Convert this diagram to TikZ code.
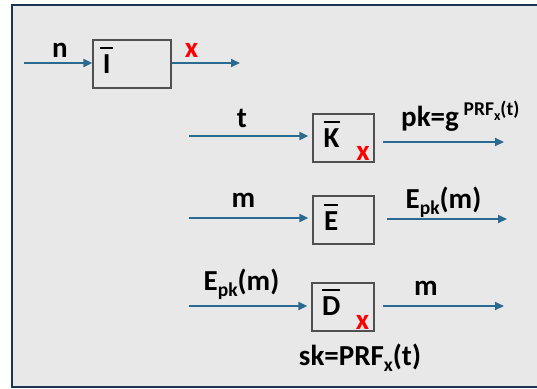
\documentclass[tikz,border=0pt]{standalone}
\usepackage{fontspec}
\setmainfont{Carlito}
\usetikzlibrary{arrows.meta}

\definecolor{bg}{HTML}{E8E8E8}
\definecolor{navy}{HTML}{1C3553}
\definecolor{flow}{HTML}{2B6A90}
\definecolor{boxgray}{HTML}{505050}
\definecolor{xred}{HTML}{FF0000}

% letter with a thick bar above it
\newcommand\ovl[1]{\setbox0\hbox{#1}\vbox{\hrule height 2pt width \wd0 \vskip 5pt \box0}}
% lowered / raised smaller text
\newcommand\lo[1]{\raisebox{-6pt}{\fontsize{19.5}{19.5}\selectfont #1}}
\newcommand\hi[1]{\raisebox{11pt}{\fontsize{19.5}{19.5}\selectfont #1}}
\newcommand\hilo[1]{\raisebox{-5pt}{\fontsize{14}{14}\selectfont #1}}

\begin{document}
\begin{tikzpicture}[x=1pt,y=-1pt,
  lbl/.style={font=\bfseries\fontsize{29}{29}\selectfont, inner sep=0pt, anchor=base},
  key/.style={lbl, text=xred},
  blk/.style={draw=boxgray, line width=1.3pt, fill=bg, minimum height=48pt, inner sep=0pt},
  arr/.style={draw=flow, line width=2pt, -{Triangle[length=9pt,width=8pt]}}]

\useasboundingbox (0,0) rectangle (537,388);
% panel
\path[draw=navy, line width=2.6pt, fill=bg] (12,5) rectangle (552,387);

% blocks
\node[blk, minimum width=78pt] (ibox) at (132,64) {};
\node[blk, minimum width=61pt] (kbox) at (343.5,138) {};
\node[blk, minimum width=61pt] (ebox) at (343.5,220) {};
\node[blk, minimum width=62pt] (dbox) at (343,307) {};

% block names
\node[lbl, anchor=base west] (ilbl) at (100,73) {\ovl{\hbox to 13pt{\hss I\hss}}};
\node[lbl, anchor=base west] (klbl) at (323.5,147) {\ovl{K}};
\node[lbl, anchor=base west] (elbl) at (324,230) {\ovl{E}};
\node[lbl, anchor=base west] (dlbl) at (322,315) {\ovl{D}};
\node[key] (kx) at (363,160) {x};
\node[key] (dx) at (362.5,329) {x};

% I row
\coordinate (nstart) at (24,63);
\coordinate (xend) at (240,63);
\draw[arr] (nstart) -- (nstart -| ibox.west);
\draw[arr] (ibox.east |- xend) -- (xend);
\node[lbl] (nlbl) at (60,57) {n};
\node[key] (xlbl) at (191.5,57) {x};

% K row
\coordinate (tstart) at (189,136);
\coordinate (kout1) at (383,142);
\coordinate (kout2) at (504,142);
\draw[arr, shorten >=4pt] (tstart) -- (tstart -| kbox.west);
\draw[arr] (kout1) -- (kout2);
\node[lbl] (tlbl) at (242,127) {t};
\node[lbl, anchor=base west] (pklbl) at (401,126) {pk=g\,\hi{PRF\hilo{x}(t)}};

% E row
\coordinate (mstart) at (189,218);
\coordinate (eout1) at (387,219);
\coordinate (eout2) at (507,219);
\draw[arr, shorten >=4pt] (mstart) -- (mstart -| ebox.west);
\draw[arr] (eout1) -- (eout2);
\node[lbl] (mlbl) at (243.5,207) {m};
\node[lbl] (celbl) at (443.5,208) {E\lo{pk}(m)};

% D row
\coordinate (cstart) at (189,306);
\coordinate (dout1) at (383,306);
\coordinate (dout2) at (504,306);
\draw[arr, shorten >=4pt] (cstart) -- (cstart -| dbox.west);
\draw[arr] (dout1) -- (dout2);
\node[lbl] (cdlbl) at (241.5,290) {E\lo{pk}(m)};
\node[lbl] (mdlbl) at (426,295) {m};
\node[lbl] (sklbl) at (360,365) {sk=PRF\lo{x}(t)};
\end{tikzpicture}
\end{document}
